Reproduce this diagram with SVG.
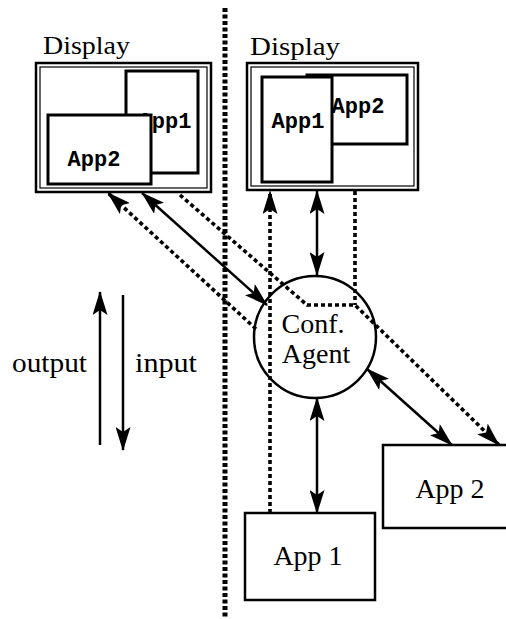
<svg xmlns="http://www.w3.org/2000/svg" width="506" height="619" viewBox="0 0 506 619">
<style>
.serif{font-family:"Liberation Serif","Times New Roman",serif;fill:#000}
.mono{font-family:"Liberation Mono","Courier New",monospace;font-weight:bold;font-size:22px;fill:#000}
.box{fill:#fff;stroke:#000;stroke-width:3}
.outer{fill:#fff;stroke:#000;stroke-width:2.5}
.inner{fill:none;stroke:#000;stroke-width:1.2}
.solid{fill:none;stroke:#000;stroke-width:2.5}
.dash{fill:none;stroke:#000;stroke-width:3.6;stroke-dasharray:4 3}
.sep{fill:none;stroke:#000;stroke-width:5;stroke-dasharray:4 2.5}
</style>
<defs>
<marker id="ah" markerUnits="userSpaceOnUse" markerWidth="24" markerHeight="15" refX="23" refY="7.5" orient="auto-start-reverse">
<path d="M0,0 L24,7.5 L0,15 L5,7.5 z" fill="#000"/>
</marker>
</defs>
<rect width="506" height="619" fill="#fff"/>

<g id="separator">
<line class="sep" x1="225" y1="8" x2="225" y2="619"/>
</g>

<g id="display-left">
<text class="serif" x="43" y="54" font-size="26" textLength="87" lengthAdjust="spacingAndGlyphs">Display</text>
<rect class="outer" x="36" y="63" width="175" height="129"/>
<rect class="inner" x="40" y="67" width="167" height="121"/>
<rect class="box" x="126" y="71" width="72" height="102"/>
<text class="mono" x="165" y="128" text-anchor="middle">App1</text>
<rect class="box" x="48" y="115" width="103" height="69"/>
<text class="mono" x="94" y="166" text-anchor="middle">App2</text>
</g>

<g id="display-right">
<text class="serif" x="250" y="55" font-size="26" textLength="90" lengthAdjust="spacingAndGlyphs">Display</text>
<rect class="outer" x="247" y="63" width="171" height="127"/>
<rect class="inner" x="251" y="67" width="163" height="119"/>
<rect class="box" x="307" y="75" width="100" height="69"/>
<text class="mono" x="358" y="113" text-anchor="middle">App2</text>
<rect class="box" x="262" y="77" width="70" height="105"/>
<text class="mono" x="298" y="128" text-anchor="middle">App1</text>
</g>

<g id="conf-agent">
<circle cx="315" cy="337" r="61" fill="none" stroke="#000" stroke-width="2.5"/>
<text class="serif" x="313" y="333" font-size="28" text-anchor="middle">Conf.</text>
<text class="serif" x="316" y="363" font-size="28" text-anchor="middle">Agent</text>
</g>

<g id="app1">
<rect class="outer" x="245" y="513" width="130" height="87"/>
<text class="serif" x="308" y="565" font-size="28" text-anchor="middle">App 1</text>
</g>

<g id="app2">
<rect class="outer" x="383" y="445" width="130" height="83"/>
<text class="serif" x="450" y="498" font-size="28" text-anchor="middle">App 2</text>
</g>

<g id="legend">
<text class="serif" x="12" y="372" font-size="27" textLength="75" lengthAdjust="spacingAndGlyphs">output</text>
<text class="serif" x="135" y="372" font-size="27" textLength="62" lengthAdjust="spacingAndGlyphs">input</text>
<line class="solid" x1="100" y1="445" x2="100" y2="292" marker-end="url(#ah)"/>
<line class="solid" x1="123" y1="295" x2="123" y2="450" marker-end="url(#ah)"/>
</g>

<g id="connectors">
<line class="solid" x1="317" y1="191" x2="317" y2="275" marker-start="url(#ah)" marker-end="url(#ah)"/>
<line class="solid" x1="317" y1="398" x2="317" y2="513" marker-start="url(#ah)" marker-end="url(#ah)"/>
<line class="solid" x1="142" y1="193" x2="267" y2="305" marker-start="url(#ah)" marker-end="url(#ah)"/>
<line class="solid" x1="367" y1="369" x2="452" y2="445" marker-start="url(#ah)" marker-end="url(#ah)"/>
<line class="dash" x1="256" y1="329" x2="108" y2="193" marker-end="url(#ah)"/>
<line class="dash" x1="270" y1="513" x2="270" y2="191" marker-end="url(#ah)"/>
<line class="dash" x1="355" y1="191" x2="355" y2="305"/>
<polyline class="dash" points="180,195 307,305 355,305 499,445" marker-end="url(#ah)"/>
</g>
</svg>
